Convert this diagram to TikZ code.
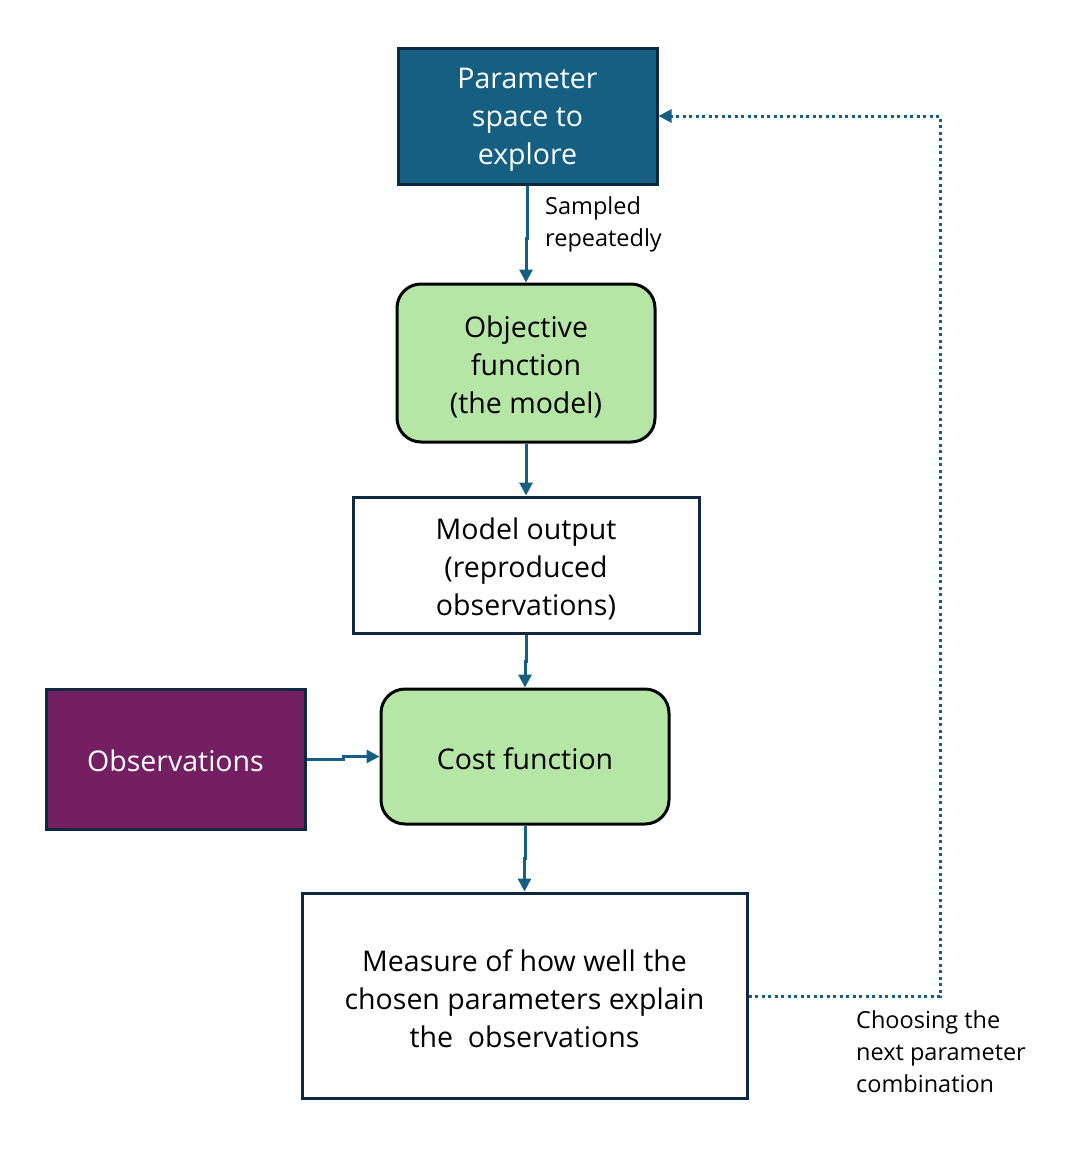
\documentclass[tikz,border=0pt]{standalone}
\usepackage{fontspec}
\setmainfont{Open Sans}
\usetikzlibrary{arrows.meta,calc}
\definecolor{accblue}{HTML}{156082}
\definecolor{darkbd}{HTML}{0E2841}
\definecolor{lgreen}{HTML}{B5E6A6}
\definecolor{purp}{HTML}{751F63}
\begin{document}
\begin{tikzpicture}[x=1pt,y=-1pt,
  boxbase/.style={draw=darkbd,line width=3pt,align=center,inner sep=0pt,
    font=\fontsize{28.5}{38}\selectfont},
  bluebox/.style={boxbase,fill=accblue,text=white},
  greenbox/.style={boxbase,draw=black!90!darkbd,fill=lgreen,rounded corners=24pt},
  whitebox/.style={boxbase,fill=white},
  purpbox/.style={boxbase,fill=purp,text=white},
  arr/.style={draw=accblue,line width=3pt,-{Triangle[length=13pt,width=13pt]}},
  dotarr/.style={draw=accblue,line width=3pt,dash pattern=on 3pt off 3.5pt,-{Triangle[length=13pt,width=13pt]}},
  lbl/.style={font=\fontsize{23.5}{32}\selectfont,align=left,inner sep=0pt,anchor=north west}
]
\useasboundingbox (0,0) rectangle (1078,1154);
\node[bluebox,minimum width=259pt,minimum height=136pt,text depth=0pt] (param) at (527.5,116) {};
\node[text=white,font=\fontsize{28.5}{38}\selectfont,align=center] (paramtxt) at (527.5,120) {Parameter\\space to\\explore};
\node[greenbox,minimum width=258pt,minimum height=158pt] (obj) at (526,363) {};
\node[font=\fontsize{28.5}{38}\selectfont,align=center] (objtxt) at (526,367) {Objective\\function\\(the model)};
\node[whitebox,minimum width=346pt,minimum height=136pt] (mout) at (526,565) {};
\node[font=\fontsize{28.5}{38}\selectfont,align=center] (mouttxt) at (526,569) {Model output\\(reproduced\\observations)};
\node[purpbox,minimum width=259pt,minimum height=140pt] (obs) at (175.5,759) {};
\node[text=white,font=\fontsize{28.5}{38}\selectfont] (obstxt) at (175.5,761) {Observations};
\node[greenbox,minimum width=288pt,minimum height=135pt] (cost) at (525,756.5) {};
\node[font=\fontsize{28.5}{38}\selectfont] (costtxt) at (525,759) {Cost function};
\node[whitebox,minimum width=445pt,minimum height=205pt] (meas) at (524.5,995.5) {};
\node[font=\fontsize{28.5}{38}\selectfont,align=center] (meastxt) at (524.5,999) {Measure of how well the\\chosen parameters explain\\the\ \ observations};

\node[lbl] (lsamp) at (545,196) {Sampled\\repeatedly};
\node[lbl] (lchoose) at (856,1010) {Choosing the\\next parameter\\combination};

\draw[arr] (param.south) |- ($(param.south)!0.55!(obj.north)$) -| (obj.north);
\draw[arr] (obj.south) -- (mout.north);
\draw[arr] (mout.south) |- ($(mout.south)!0.5!(cost.north)$) -| (cost.north);
\draw[arr] (obs.east) -| ($(obs.east)!0.5!(cost.west)$) |- (cost.west);
\draw[arr] (cost.south) |- ($(cost.south)!0.5!(meas.north)$) -| (meas.north);
\coordinate (cr) at (940,996);
\draw[dotarr] (meas.east |- cr) -- (cr) |- (param.east);
\end{tikzpicture}
\end{document}
